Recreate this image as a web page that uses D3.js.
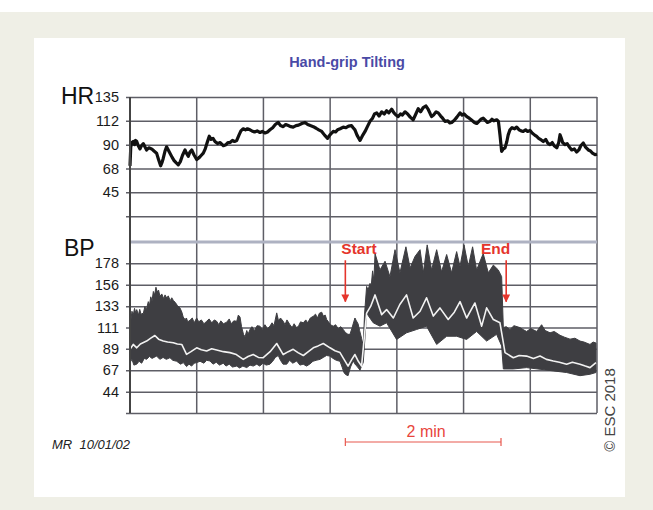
<!DOCTYPE html>
<html>
<head>
<meta charset="utf-8">
<script src="https://cdn.jsdelivr.net/npm/d3@7"></script>
<style>
  body { margin: 0; background: #fff; }
  text { font-family: "Liberation Sans", Arial, sans-serif; }
</style>
</head>
<body>
<script>
// time is seconds from the start of the trace (6 min shown)
var hrTime = [0, 0.6, 1.5, 2.5, 3.5, 4.3, 5.2, 6.4, 7.7, 8.8, 10.3, 11.5, 12.8, 14.5, 16.7, 18.5, 20.5, 22, 23.6, 24.6,
  25.6, 27, 28.2, 29.5, 30.8, 32.5, 34, 35.5, 37.2, 38.8, 40.5, 42.4, 43.5, 44.9, 46.2, 47.6, 49.5, 51.4, 53.5, 55,
  56.5, 58, 59.5, 61.1, 62.5, 64, 65.5, 67.5, 69.5, 71.9, 74, 75.5, 77.1, 79, 80.5, 82.3, 84, 85.5, 87.3, 89,
  90.5, 92.5, 94, 96, 98, 100.2, 102, 104.1, 106, 107.9, 110, 112, 114.3, 116, 118.1, 120, 122, 124, 125.8, 128,
  130, 132.5, 134.9, 137, 139, 141.3, 143.5, 145.5, 147.8, 150, 152.3, 154, 155.5, 156.7, 158.5, 160, 162, 164.4, 166.5, 168.5,
  170.8, 172, 173.4, 175, 177.3, 179, 181.2, 183, 185, 187, 188.5, 190.2, 192, 194, 196, 197.8, 199.5, 201.7, 203.5, 205,
  206.8, 208.5, 210, 212, 214, 216, 218.3, 220, 222.2, 224, 226, 228.2, 230, 231.5, 232.5, 234, 236, 237.6, 239.5, 241,
  242.8, 245, 246.5, 248, 250, 252, 254.4, 256, 257.5, 259.6, 261.5, 263.5, 265.5, 267.3, 269, 270.5, 272.3, 274, 275.5, 277.5,
  279, 280.5, 282.7, 284, 285.2, 286.5, 287.8, 289.1, 290.5, 291.5, 292.9, 294.5, 296.5, 298.1, 300, 301.5, 303.1, 305, 306.5, 308.4,
  310, 312, 313.5, 315, 317, 318.6, 320.5, 322, 323.8, 325.5, 327, 329, 330.5, 331.5, 332.5, 333.5, 335.4, 337, 338.5, 340.5,
  342.5, 344.3, 346, 347.5, 349.4, 351, 353.3, 355, 356.5, 358.5, 360];
var hrBpm = [70, 88, 92, 93, 90, 94, 93, 89, 86, 89, 91, 88, 85, 87, 86, 84, 82, 76, 70, 73,
  77, 84, 88, 85, 82, 78, 75, 73, 71, 74, 80, 85, 82, 79, 83, 85, 80, 76, 78, 80,
  82, 86, 92, 98, 95, 96, 93, 91, 92, 89, 90, 92, 92, 94, 93, 94, 99, 103, 105, 104,
  105, 104, 103, 102, 103, 101.5, 102.5, 101, 102, 104, 106, 109, 111, 108, 107, 109, 108, 107, 106.6, 108,
  108.5, 110, 111, 109, 108, 107, 105.5, 104, 102.5, 99, 96, 99, 101, 102.5, 102, 104, 105, 106.6, 106, 107.5,
  108, 106, 104, 99, 94, 98, 102.5, 107, 112, 115, 119, 120, 117, 121, 119, 122, 120, 123.5, 120, 118,
  116.5, 119, 118, 121, 119, 116, 113.5, 118, 124, 121, 125, 126.5, 123, 119, 116.5, 118, 121, 120, 117, 115,
  112, 112.5, 110.5, 111, 113, 116, 120, 118, 119, 116.5, 115, 113, 111, 110, 112, 114, 115, 113, 111, 112,
  114, 112.5, 113.5, 112, 99.4, 83.7, 86, 87, 93, 99, 104, 106, 105, 106.6, 104, 103, 102.5, 104, 102.5, 103.4,
  101, 99, 97.8, 96, 94.5, 93, 95, 91.5, 90, 92, 89, 87, 92, 99.4, 96, 92, 90, 91, 88, 85,
  86, 83, 85, 89, 91.6, 88, 85, 84, 82, 80.6, 81];

// systolic envelope
var sysTime = [0, 0.8, 1.5, 2.5, 3.5, 4.5, 5.2, 6.5, 7.5, 8.5, 10.3, 11.5, 12.5, 14.1, 15, 16, 17, 18, 19, 20,
  21, 22, 23.1, 24.5, 26, 27, 28.3, 29.5, 31, 32.2, 33.4, 35, 36.5, 38.5, 40, 41, 42.4, 43.5, 44.5, 46.3,
  48, 49.5, 51.4, 53, 55, 57, 59.1, 61, 63, 65, 66.8, 68.5, 70, 72, 74.5, 76.5, 78, 80, 82.3, 83.5,
  84.8, 86, 87.5, 88.7, 90, 91, 92.5, 94, 96, 98, 100.2, 102, 104, 106, 107.9, 109.5, 111, 113.1, 114.5, 116,
  118.1, 119.5, 121, 123.3, 125, 126.5, 128.5, 130, 131.5, 133.6, 135.5, 137, 139, 141.3, 143, 144.5, 146, 147.8, 149, 150.5,
  151.6, 153, 154.5, 156.7, 158.5, 160.5, 162.5, 164.4, 166, 168, 169.6, 171, 172.5, 173.4, 174.5, 175.8, 177, 178.5, 179.8, 180.8,
  182.4, 183.5, 185, 186, 187, 188, 188.9, 192.7, 196.6, 200.4, 204.3, 208.1, 212.7, 215.9, 219.7, 223.6, 226.1, 229.1, 232.5, 236.4,
  240.2, 244.1, 247.9, 251.8, 254.4, 257.5, 260.8, 264.1, 267.2, 272.3, 276.2, 280.1, 283.9, 286.5, 287.8, 290, 292.9, 296, 300.6, 303,
  305.7, 309, 313.5, 317.3, 320, 323.8, 327, 331.5, 335, 339.2, 343, 346.9, 350, 354.6, 357, 359.2];
var sysVal = [132.5, 120, 128, 124, 131, 126, 129.7, 124, 130, 125, 126, 133, 129, 138, 134, 143, 139, 148.6, 145, 153,
  148, 150, 143.5, 146, 141, 145, 141.8, 144, 139, 142, 139.3, 137, 134, 131.5, 127, 122, 119.4, 121, 117, 118.7,
  121, 116, 121, 117, 119, 115, 117.6, 120, 116, 119, 117.6, 114, 118, 115, 116.6, 120, 115, 118, 117.6, 124,
  122, 112, 104, 101.5, 108, 104, 109, 112, 108, 113, 112.5, 109, 114, 110, 112.5, 116, 113, 126.3, 118, 121,
  117.6, 114, 119, 114, 111, 115, 110.8, 113, 117, 116, 119, 116, 121, 122.8, 125, 121, 126, 127, 123, 124,
  119.4, 117, 114, 112.5, 114, 110, 112, 109, 106, 104, 104, 110, 117, 121, 118, 115, 108, 100, 92, 125,
  153.8, 150, 157, 155, 170, 160, 188, 171, 180, 164, 192, 168, 195, 173, 185, 192, 168, 197, 171, 192,
  169, 187, 168, 190, 174.5, 197, 174.5, 195, 171, 188, 168, 176, 171, 164, 111, 112, 109, 113, 111, 109,
  107, 110, 107, 114, 108, 105.6, 107, 103, 101, 99, 100, 97, 96, 93.5, 96, 95];

// diastolic envelope
var diaTime = [0, 1.5, 3, 5.2, 7, 9, 11, 12.8, 15, 17, 20.5, 23, 25.5, 28, 30.8, 33, 36, 39, 41.1, 43.6,
  45.5, 47.5, 49.5, 51.4, 54, 57, 59, 61.7, 64, 66.5, 69, 71.9, 74, 76.5, 79, 82.3, 84.5, 87, 90, 92.5,
  95, 97.7, 100, 102.5, 105, 107.9, 110, 112, 114.3, 116, 118, 120.8, 123, 125.5, 128.5, 131, 133.5, 136.1, 138.5, 141,
  143.5, 146.5, 149, 151.5, 154.2, 156.5, 159, 161.9, 163.5, 165, 166.5, 168.1, 170, 172, 174, 175.5, 177.3, 178.5, 179.8, 182.4,
  187.5, 192.7, 197.8, 205.5, 213.2, 220.9, 228.6, 236.4, 244.1, 251.8, 259.5, 267.2, 274.9, 282.6, 286.5, 287.8, 295.5, 305.7, 316.1, 326.3,
  336.6, 346.9, 354.6, 359.2];
var diaVal = [74.6, 78, 72, 73, 76, 74, 79, 78, 81, 79, 81.4, 78, 80, 78, 79.7, 77, 76, 73, 74.6, 70.5,
  73, 71, 74, 74.6, 76, 74, 77, 76.3, 73, 75, 72, 74, 71, 73, 70, 71, 69, 71, 69.4, 72,
  71, 73, 71, 74, 72, 73, 76, 80, 82, 77, 73, 73, 77, 74, 76.3, 72, 73, 71, 73, 76,
  77, 78, 80, 82, 81.4, 79, 77, 76, 70, 64, 62, 61, 70, 76.3, 72, 70, 66.7, 71, 74.6, 126,
  116, 112.5, 116, 98.7, 105.6, 109, 112.5, 93.5, 102, 102, 98.7, 107, 97, 104, 92, 68, 68, 69.4, 67.7, 66,
  64.3, 61, 62.5, 64.3];

// white mean trace inside the band
var meanTime = [0, 2.5, 5.2, 8, 12.8, 16, 19.2, 22, 25.6, 29, 33.4, 36.5, 39.9, 43.6, 47, 51.4, 55, 59.1, 63, 66.8,
  72, 77.1, 82, 87.3, 91, 95, 99, 102.7, 108, 113.1, 118.1, 122, 125.8, 129.5, 133.6, 137.5, 141.3, 145, 149, 154.2,
  158, 161.9, 165, 168.1, 171, 173.4, 176, 178.5, 182.4, 185.5, 188.9, 194, 197.8, 203, 208, 213.2, 218.3, 223.6, 228.6, 233.8,
  238.9, 245.3, 250, 254.4, 259.5, 265.9, 271.1, 274.9, 280.1, 285.2, 289.1, 295.5, 300, 305.7, 311, 316.1, 321, 326.3, 331, 336.6,
  341, 346.9, 351, 354.6, 359.2];
var meanVal = [88.4, 93.5, 90, 94, 97, 100, 102.8, 99, 97, 96, 95.3, 94, 93.5, 83.2, 86, 90, 88, 86.7, 89, 87.7,
  86, 85, 83, 78, 81, 83, 80, 79.7, 86, 94.5, 83, 86, 88.4, 85, 82, 86, 90, 92, 94.5, 90,
  87, 85, 78, 71, 78, 83, 76, 71, 126, 133, 145, 124.5, 129.7, 121, 135, 145, 121, 128, 142, 123,
  131.5, 119.4, 127, 138, 121, 136.6, 112.5, 131.5, 119.4, 116, 85, 79.7, 82, 81.4, 79, 81.4, 78, 76.3, 75, 73,
  75, 73, 71, 69.4, 74.6];

var hrTicks = [135, 112.5, 90, 67.5, 45, 22.5];
var hrTickLabels = ["135", "112", "90", "68", "45", ""];
var bpTicks = [22.2, 44.4, 66.7, 88.9, 111.1, 133.3, 155.6, 177.8];
var bpTickLabels = ["", "44", "67", "89", "111", "133", "156", "178"];
var eventNames = ["Start", "End"];
var eventTimes = [166, 290];

var width = 653, height = 510;
var left = 130, right = 597;

var svg = d3.select("body").append("svg")
  .attr("width", width)
  .attr("height", height);

svg.append("rect")
  .attr("x", 0).attr("y", 12)
  .attr("width", width).attr("height", height - 12)
  .attr("fill", "#efefe6");
svg.append("rect")
  .attr("x", 34).attr("y", 38)
  .attr("width", 591).attr("height", 459)
  .attr("fill", "#fff");

var x = d3.scaleLinear().domain([0, 360]).range([left, right]);
var yHR = d3.scaleLinear().domain([0, 135]).range([240, 97]);
var yBP = d3.scaleLinear().domain([200 / 9, 200]).range([413, 242]);

svg.append("text")
  .attr("x", 347).attr("y", 67)
  .attr("text-anchor", "middle")
  .attr("font-size", 14.5).attr("font-weight", "bold")
  .attr("fill", "#4a4aa6")
  .text("Hand-grip Tilting");

// vertical grid
var g = svg.append("g");
g.selectAll("line.v")
  .data(d3.range(8).map(function(i) { return i * 360 / 7; }))
  .enter().append("line")
    .attr("class", "v")
    .attr("x1", function(d) { return x(d); })
    .attr("x2", function(d) { return x(d); })
    .attr("y1", 97).attr("y2", 413)
    .attr("stroke", "#5e5e66")
    .attr("stroke-width", 1.5);

// horizontal grid + labels through the axes
function styleAxis(sel) {
  sel.select(".domain").remove();
  sel.selectAll(".tick line").attr("stroke", "#5e5e66").attr("stroke-width", 1.5);
  sel.selectAll(".tick text")
    .attr("font-size", 14.5)
    .attr("font-family", "'Liberation Sans', Arial, sans-serif")
    .attr("fill", "#1a1a1a");
}

svg.append("g")
  .attr("transform", "translate(126,0)")
  .call(d3.axisLeft(yHR)
    .tickValues(hrTicks)
    .tickFormat(function(d, i) { return hrTickLabels[i]; })
    .tickSizeInner(-(right - 126))
    .tickSizeOuter(0)
    .tickPadding(7))
  .call(styleAxis);

svg.append("g")
  .attr("transform", "translate(126,0)")
  .call(d3.axisLeft(yBP)
    .tickValues(bpTicks)
    .tickFormat(function(d, i) { return bpTickLabels[i]; })
    .tickSizeInner(-(right - 126))
    .tickSizeOuter(0)
    .tickPadding(7))
  .call(styleAxis);

// separator between the two panels
svg.append("line")
  .attr("x1", left).attr("x2", right)
  .attr("y1", yBP(200)).attr("y2", yBP(200))
  .attr("stroke", "#aeb2c2")
  .attr("stroke-width", 3);

svg.append("text").attr("x", 61).attr("y", 103.5)
  .attr("font-size", 23).attr("fill", "#111").text("HR");
svg.append("text").attr("x", 64).attr("y", 256)
  .attr("font-size", 23).attr("fill", "#111").text("BP");

// BP band: systolic forward, diastolic back
var sysPts = sysTime.map(function(t, i) { return [x(t), yBP(sysVal[i])]; });
var diaPts = diaTime.map(function(t, i) { return [x(t), yBP(diaVal[i])]; }).reverse();
svg.append("path")
  .attr("d", d3.line()(sysPts.concat(diaPts)) + "Z")
  .attr("fill", "#3e3e42")
  .attr("stroke", "#3e3e42")
  .attr("stroke-width", 1)
  .attr("stroke-linejoin", "round");

svg.append("path")
  .datum(meanTime.map(function(t, i) { return [t, meanVal[i]]; }))
  .attr("d", d3.line()
    .x(function(d) { return x(d[0]); })
    .y(function(d) { return yBP(d[1]); }))
  .attr("fill", "none")
  .attr("stroke", "#f2f2f2")
  .attr("stroke-width", 1.6)
  .attr("stroke-linejoin", "round");

// HR trace
svg.append("path")
  .datum(hrTime.map(function(t, i) { return [t, hrBpm[i]]; }))
  .attr("d", d3.line()
    .x(function(d) { return x(d[0]); })
    .y(function(d) { return yHR(d[1]); }))
  .attr("fill", "none")
  .attr("stroke", "#111")
  .attr("stroke-width", 3.2)
  .attr("stroke-linejoin", "round");

// axis line on the left
svg.append("line")
  .attr("x1", left).attr("x2", left)
  .attr("y1", 97).attr("y2", 413)
  .attr("stroke", "#444").attr("stroke-width", 2);

// Start / End markers
var red = "#e5352c";
svg.append("defs").append("marker")
  .attr("id", "head")
  .attr("viewBox", "0 0 10 10")
  .attr("refX", 9).attr("refY", 5)
  .attr("markerWidth", 5).attr("markerHeight", 5)
  .attr("orient", "auto")
  .append("path")
    .attr("d", "M0,0L10,5L0,10Z")
    .attr("fill", red);

eventNames.forEach(function(name, i) {
  var ex = x(eventTimes[i]);
  svg.append("line")
    .attr("x1", ex).attr("x2", ex)
    .attr("y1", yBP(181)).attr("y2", yBP(138))
    .attr("stroke", red).attr("stroke-width", 1.6)
    .attr("marker-end", "url(#head)");
  svg.append("text")
    .attr("x", i == 0 ? ex - 4 : ex + 4)
    .attr("y", 254)
    .attr("text-anchor", i == 0 ? "start" : "end")
    .attr("font-size", 15.5).attr("font-weight", "bold")
    .attr("fill", red)
    .text(name);
});

// 2 min scale bar
var barY = 442;
var x0 = x(eventTimes[0]), x1 = x(eventTimes[0] + 120);
svg.append("line").attr("x1", x0).attr("x2", x1).attr("y1", barY).attr("y2", barY)
  .attr("stroke", "#e8584e").attr("stroke-width", 1.2);
[x0, x1].forEach(function(bx) {
  svg.append("line").attr("x1", bx).attr("x2", bx).attr("y1", barY - 4).attr("y2", barY + 4)
    .attr("stroke", "#e8584e").attr("stroke-width", 1.2);
});
svg.append("text")
  .attr("x", (x0 + x1) / 2 + 3).attr("y", 437)
  .attr("text-anchor", "middle")
  .attr("font-size", 16).attr("fill", "#e8453c")
  .text("2 min");

svg.append("text")
  .attr("x", 52).attr("y", 449)
  .attr("font-size", 13).attr("font-style", "italic").attr("fill", "#222")
  .text("MR\u00a0 10/01/02");

svg.append("text")
  .attr("transform", "translate(615,410) rotate(-90)")
  .attr("text-anchor", "middle")
  .attr("font-size", 15).attr("fill", "#444")
  .text("© ESC 2018");
</script>
</body>
</html>
